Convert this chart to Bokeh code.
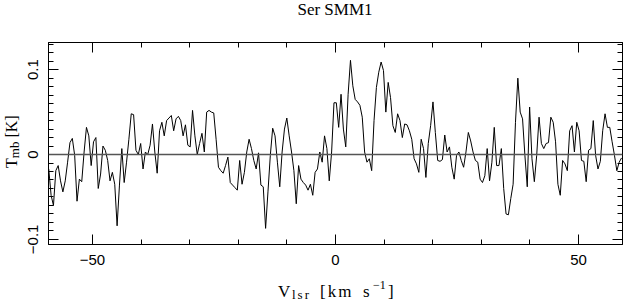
import numpy as np
from bokeh.plotting import figure
from bokeh.models import (Range1d, LinearAxis, FixedTicker, Span, ColumnDataSource, Div,
                          CustomLabelingPolicy)
from bokeh.layouts import column, row
from bokeh.embed import file_html
from bokeh.resources import INLINE

# ---------------- data ----------------
title_text = "Ser SMM1"
v_start = -59.0          # km/s, first channel
v_step = 0.485           # km/s, channel width
# main-beam temperature, mK, read off the picture channel by channel
tmb_mK = [
    -17, -48, -60, -19, -13, -31, -44, -31, -9, 14, 19, -1, -55, -29, -32, 3, 32, 22, -13, 15,
    20, -40, -23, 10, 5, -7, -31, -21, -35, -84, -36, 7, -33, -9, 18,
    48, 47, 5, 0, 13, -17, 3, 0, 11, 36, 3, -22, 28, 38, 22, 40, 43, 46, 28, 42,
    45, 40, 22, 35, 11, 9, 52, 22, 0, 13, 25, 3, 50, 52, 50,
    49, 18, -15, -19, -22, -13, -3, -33, -36, -39, -42, -7, -35, -21, 3, 18, 7, -7, -17, 2,
    -36, -38, -87, -44, -1, 31, 22, -9, -38, 3, 30, 43, 22, 3, -19,
    -58, -13, -29, -33, -36, -42, -35, -48, -21, -17, 3, -9, 22, 7, -31, 3, 61, 61, 32, 71,
    30, 9, 71, 111, 81, 65, 62, 58, 44, 3, -9, -5, -19,
    40, 79, 97, 109, 99, 50, 85, 67, 34, 26, 48, 40, 20, 36, 35, 28, 18, -5, -11, -21,
    18, 7, -27, 13, 34, 62, 26, -7, -8, -6, 23, 3, 9, -15, -29,
    -1, 3, -7, -15, 3, 26, 16, 3, -7, -9, -29, -33, -25, 7, -31, -9, 32, -13, -13, 7,
    -40, -70, -71, -52, -35, 38, 90, 50, 42, -1, -38, 56, -5, -32, -1, 44,
    13, 7, 13, 14, 44, 38, 15, -35, -48, -7, -11, -19, 28, 34, 3, 38, 28, -7, -8, -32,
    5, 7, 40, -1, -17, -8, 28, 48, 32, 32, 15, -1, -19, -9, -4,
]
x_major = [-50, 0, 50]
x_major_labels = {-50: "\u221250", 0: "0", 50: "50"}
x_minor = [-50, -40, -30, -20, -10, 0, 10, 20, 30, 40, 50]
y_major = [-0.1, 0.0, 0.1]
y_major_labels = {-0.1: "\u22120.1", 0.0: "0", 0.1: "0.1"}
y_minor = [round(-0.10 + 0.01 * i, 2) for i in range(24)]

x_lo, x_hi = -59.05, 59.05
y_lo, y_hi = -0.106, 0.132

velocity = v_start + v_step * np.arange(len(tmb_mK))
tmb = np.array(tmb_mK) / 1000.0
src = ColumnDataSource(dict(v=velocity, t=tmb))

serif = "Liberation Serif"
sans = "Liberation Sans"

# ---------------- figure ----------------
p = figure(width=603, height=242, output_backend="svg", toolbar_location=None,
           x_range=Range1d(x_lo, x_hi), y_range=Range1d(y_lo, y_hi),
           x_axis_location=None, y_axis_location=None,
           min_border_left=28, min_border_right=1, min_border_top=12, min_border_bottom=28,
           margin=0)
p.xgrid.visible = False
p.ygrid.visible = False
p.outline_line_color = "black"
p.outline_line_width = 1
p.background_fill_color = "white"
p.border_fill_color = "white"

hide_all_labels = CustomLabelingPolicy(
    code="for (const i of Array.from(indices)) { indices.unset(i) }\nreturn indices")


def style_axis(ax, show_labels):
    ax.axis_line_color = "black"
    ax.major_tick_line_color = "black"
    ax.minor_tick_line_color = "black"
    ax.major_tick_in = 10
    ax.major_tick_out = 0
    ax.minor_tick_in = 5
    ax.minor_tick_out = 0
    if show_labels:
        ax.major_label_text_font = sans
        ax.major_label_text_font_size = "15px"
        ax.major_label_text_color = "black"
    else:
        ax.major_label_text_font_size = "0px"
        ax.major_label_standoff = 0
        ax.major_label_policy = hide_all_labels


xt = FixedTicker(ticks=x_major, minor_ticks=x_minor)
yt = FixedTicker(ticks=y_major, minor_ticks=y_minor)

xb = LinearAxis(ticker=xt, major_label_overrides=x_major_labels)
style_axis(xb, True)
xb.major_label_standoff = 10
p.add_layout(xb, "below")

xa = LinearAxis(ticker=xt)
style_axis(xa, False)
p.add_layout(xa, "above")

yl = LinearAxis(ticker=yt, major_label_overrides=y_major_labels)
style_axis(yl, True)
yl.major_label_orientation = "vertical"
yl.major_label_standoff = 10
p.add_layout(yl, "left")

yr = LinearAxis(ticker=yt)
style_axis(yr, False)
p.add_layout(yr, "right")

# zero line
p.add_layout(Span(location=0, dimension="width", line_color="#555555", line_width=1.5))

# spectrum
p.line("v", "t", source=src, line_color="black", line_width=1)

# ---------------- texts as HTML (title and axis labels with sub/superscripts) ----------------
def piece(text, left, top, size, extra="", lh=1.0):
    return (f'<span style="position:absolute;left:{left}px;top:{top}px;'
            f"font-family:'{serif}';font-size:{size}px;line-height:{lh};white-space:nowrap;"
            f'color:black;{extra}">{text}</span>')


title_html = ('<div style="position:relative;width:623px;height:30px;">'
              + piece(title_text, 235, 1, 17, "width:200px;text-align:center;")
              + '</div>')

xlab_html = ('<div style="position:relative;width:623px;height:30px;">'
             + piece("V", 278, 11.3, 17)
             + piece("lsr", 292, 18.4, 13, "letter-spacing:2px;", lh=0.8)
             + piece("[km", 320, 11.3, 17, "letter-spacing:2px;")
             + piece("s", 363, 11.3, 17)
             + piece("\u22121", 373, 7, 12)
             + piece("]", 388, 11.3, 17)
             + '</div>')

ylab_html = ('<div style="position:relative;width:20px;height:242px;">'
             '<span style="position:absolute;left:3.6px;top:138px;transform:rotate(-90deg);'
             f"transform-origin:0 0;font-family:'{serif}';font-size:16px;line-height:1;"
             'white-space:nowrap;color:black;">T<span style="font-size:13px;position:relative;'
             'top:2px;">mb</span> [K]</span></div>')

title_div = Div(text=title_html, width=623, height=30, margin=0)
xlab_div = Div(text=xlab_html, width=623, height=30, margin=0)
ylab_div = Div(text=ylab_html, width=20, height=242, margin=0)

layout = column(title_div, row(ylab_div, p, spacing=0, margin=0), xlab_div,
                spacing=0, margin=0)

open("out.html", "w").write(file_html(layout, INLINE))
